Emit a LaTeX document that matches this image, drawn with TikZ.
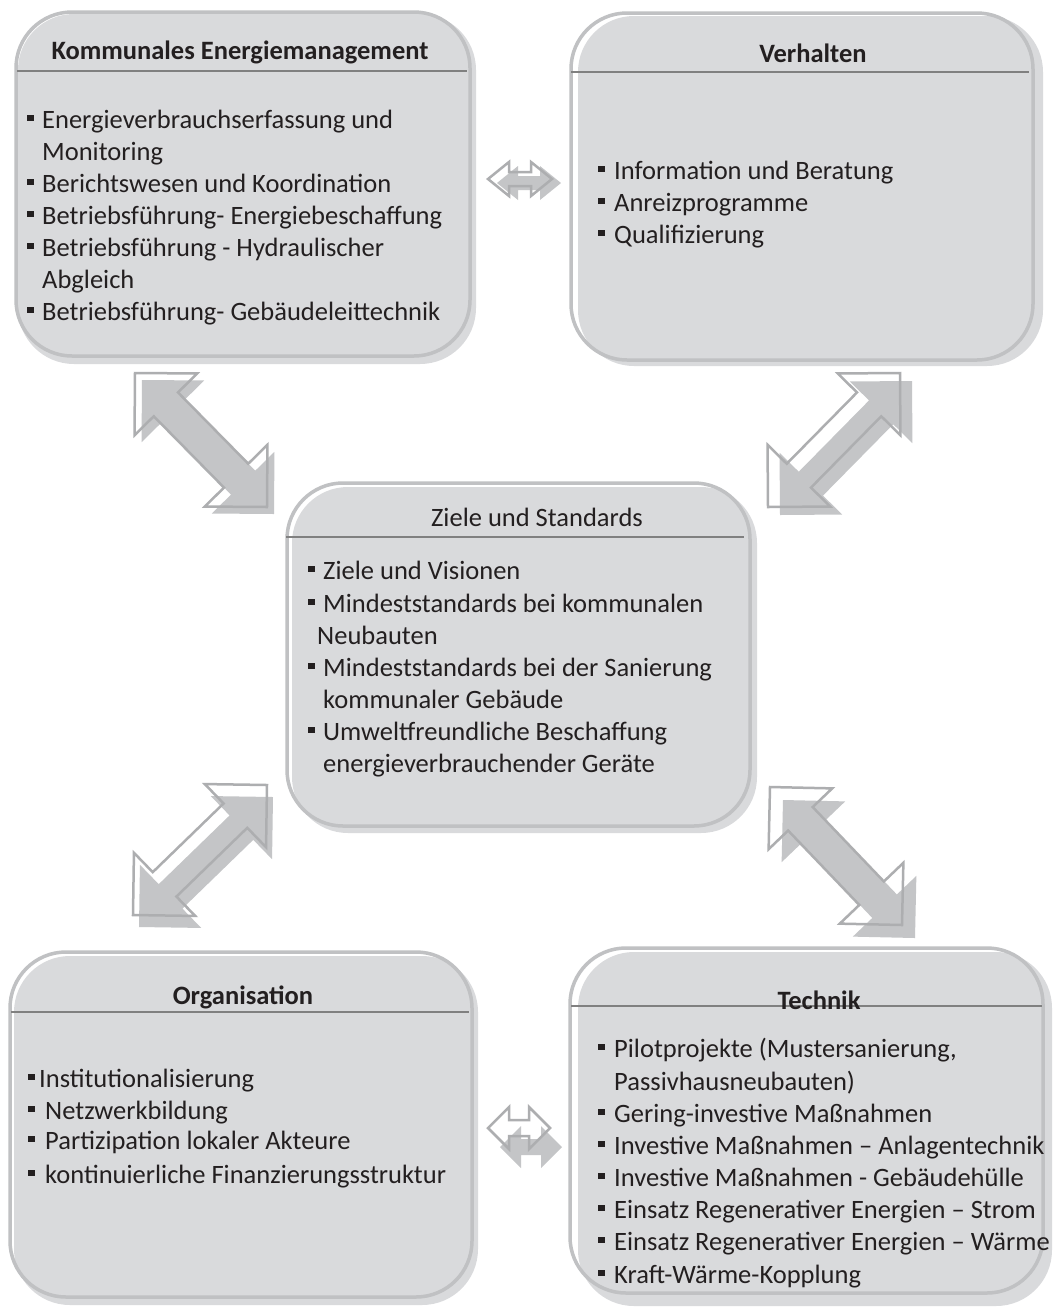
\documentclass[tikz,border=0pt]{standalone}
\usepackage{fontspec}
\setmainfont{Carlito}
\usetikzlibrary{calc}
\definecolor{txtc}{HTML}{231F20}
\definecolor{boxgray}{HTML}{D9DADC}
\definecolor{boxedge}{HTML}{C0C1C3}
\definecolor{titlerule}{HTML}{808080}
\definecolor{arrgray}{HTML}{C4C5C7}
\definecolor{arredge}{HTML}{ADAEB0}
\newcommand\bul[1]{\makebox[#1][l]{\rule[7pt]{6.5pt}{6.5pt}}}
\newcommand\dblarrow[7]{%
  \path let \p1=(#1), \p2=(#2) in \pgfextra{%
    \pgfmathsetmacro\tmpang{atan2(\y2-\y1,\x2-\x1)}%
    \pgfmathsetmacro\tmplen{veclen(\x2-\x1,\y2-\y1)}%
    \xdef\Aang{\tmpang}\xdef\Alen{\tmplen}};
  \begin{scope}[shift={(#1)}, xshift=#6pt, yshift=-#7pt, rotate=\Aang]
    \fill[arrfill] (0,0) -- (#3,#4) -- (#3,#5) -- (\Alen-#3,#5) -- (\Alen-#3,#4) -- (\Alen,0)
      -- (\Alen-#3,-#4) -- (\Alen-#3,-#5) -- (#3,-#5) -- (#3,-#4) -- cycle;
  \end{scope}
  \begin{scope}[shift={(#1)}, rotate=\Aang]
    \draw[arrline] (0,0) -- (#3,#4) -- (#3,#5) -- (\Alen-#3,#5) -- (\Alen-#3,#4) -- (\Alen,0)
      -- (\Alen-#3,-#4) -- (\Alen-#3,-#5) -- (#3,-#5) -- (#3,-#4) -- cycle;
  \end{scope}}
\begin{document}
\begin{tikzpicture}[x=1pt,y=-1pt,
  boxline/.style={draw=boxedge, line width=3.5pt, rounded corners=56pt, inner sep=0pt, outer sep=0pt},
  boxfill/.style={fill=boxgray, rounded corners=56pt},
  tline/.style={draw=titlerule, line width=2pt},
  ttl/.style={font=\fontsize{26.5}{32}\selectfont\bfseries, text=txtc, inner sep=0pt, anchor=base},
  ttlr/.style={font=\fontsize{26.5}{32}\selectfont, text=txtc, inner sep=0pt, anchor=base},
  itm/.style={font=\fontsize{26.5}{32}\selectfont, text=txtc, inner sep=0pt, anchor=base west},
  arrfill/.style={fill=arrgray},
  arrline/.style={draw=arredge, line width=2.5pt, line join=miter}]
\useasboundingbox (0,0) rectangle (1053,1310);
\fill[white] (0,0) rectangle (1053,1310);

% ---------- box fills ----------
\fill[boxfill] (18,14) rectangle (476,364);
\fill[boxfill] (578,16) rectangle (1043,366);
\fill[boxfill] (292,487) rectangle (757,833);
\fill[boxfill] (14,956) rectangle (478,1305);
\fill[boxfill] (578,952) rectangle (1052,1306);

% ---------- box outlines ----------
\node[boxline, minimum width=454pt, minimum height=344pt] (kem) at (243,184) {};
\node[boxline, minimum width=462pt, minimum height=347pt] (verh) at (802,186.5) {};
\node[boxline, minimum width=463pt, minimum height=343pt] (ziele) at (518.5,654.5) {};
\node[boxline, minimum width=462pt, minimum height=345pt] (orga) at (241,1124.5) {};
\node[boxline, minimum width=473pt, minimum height=345pt] (tech) at (806.5,1120.5) {};

% ---------- title rules ----------
\draw[tline] (17,71) -- (467,71);
\draw[tline] (571,72) -- (1029,72);
\draw[tline] (286,537) -- (744,537);
\draw[tline] (11,1012) -- (469,1012);
\draw[tline] (571,1006) -- (1042,1006);

% ---------- titles ----------
\node[ttl] (t1) at (240,59) {Kommunales Energiemanagement};
\node[ttl] (t2) at (813,62) {Verhalten};
\node[ttlr] (t3) at (537,526) {Ziele und Standards};
\node[ttl] (t4) at (243,1004) {Organisation};
\node[ttl] (t5) at (819,1009) {Technik};

% ---------- Kommunales Energiemanagement ----------
\node[itm] (k1) at (27,128) {\bul{15pt}Energieverbrauchserfassung und};
\node[itm] (k2) at (42,160) {Monitoring};
\node[itm] (k3) at (27,192) {\bul{15pt}Berichtswesen und Koordination};
\node[itm] (k4) at (27,224) {\bul{15pt}Betriebsführung- Energiebeschaffung};
\node[itm] (k5) at (27,256) {\bul{15pt}Betriebsführung - Hydraulischer};
\node[itm] (k6) at (42,288) {Abgleich};
\node[itm] (k7) at (27,320) {\bul{15pt}Betriebsführung- Gebäudeleittechnik};

% ---------- Verhalten ----------
\node[itm] (v1) at (598,179) {\bul{16pt}Information und Beratung};
\node[itm] (v2) at (598,211) {\bul{16pt}Anreizprogramme};
\node[itm] (v3) at (598,243) {\bul{16pt}Qualifizierung};

% ---------- Ziele und Standards ----------
\node[itm] (z1) at (308,579) {\bul{15pt}Ziele und Visionen};
\node[itm] (z2) at (308,612) {\bul{15pt}Mindeststandards bei kommunalen};
\node[itm] (z3) at (317,644) {Neubauten};
\node[itm] (z4) at (308,676) {\bul{15pt}Mindeststandards bei der Sanierung};
\node[itm] (z5) at (323,708) {kommunaler Gebäude};
\node[itm] (z6) at (308,740) {\bul{15pt}Umweltfreundliche Beschaffung};
\node[itm] (z7) at (323,772) {energieverbrauchender Geräte};

% ---------- Organisation ----------
\node[itm] (o1) at (28,1087) {\bul{11pt}Institutionalisierung};
\node[itm] (o2) at (28,1119) {\bul{17pt}Netzwerkbildung};
\node[itm] (o3) at (28,1149) {\bul{17pt}Partizipation lokaler Akteure};
\node[itm] (o4) at (28,1183) {\bul{17pt}kontinuierliche Finanzierungsstruktur};

% ---------- Technik ----------
\node[itm] (e1) at (598,1057) {\bul{16pt}Pilotprojekte (Mustersanierung,};
\node[itm] (e2) at (614,1090) {Passivhausneubauten)};
\node[itm] (e3) at (598,1122) {\bul{16pt}Gering-investive Maßnahmen};
\node[itm] (e4) at (598,1154) {\bul{16pt}Investive Maßnahmen – Anlagentechnik};
\node[itm] (e5) at (598,1186) {\bul{16pt}Investive Maßnahmen - Gebäudehülle};
\node[itm] (e6) at (598,1218) {\bul{16pt}Einsatz Regenerativer Energien – Strom};
\node[itm] (e7) at (598,1250) {\bul{16pt}Einsatz Regenerativer Energien – Wärme};
\node[itm] (e8) at (598,1283) {\bul{16pt}Kraft-Wärme-Kopplung};

% ---------- block arrows ----------
\coordinate (a1s) at (135,373);  \coordinate (a1e) at (267,507);
\coordinate (a2s) at (900,373);  \coordinate (a2e) at (768,507);
\coordinate (a3s) at (267,785);  \coordinate (a3e) at (133,915);
\coordinate (a4s) at (770,787);  \coordinate (a4e) at (902,925);
\coordinate (a5s) at (488,179);  \coordinate (a5e) at (552,179);
\coordinate (a6s) at (488,1128); \coordinate (a6e) at (550,1128);

\dblarrow{a1s}{a1e}{44}{44}{17}{7}{7}
\dblarrow{a2s}{a2e}{44}{44}{17}{12}{8}
\dblarrow{a3s}{a3e}{44}{44}{17}{6}{12}
\dblarrow{a4s}{a4e}{44}{44}{17}{13}{13}
\dblarrow{a5s}{a5e}{21}{17}{7}{9}{4}
\dblarrow{a6s}{a6e}{21}{21}{8}{12}{19}
\end{tikzpicture}
\end{document}
